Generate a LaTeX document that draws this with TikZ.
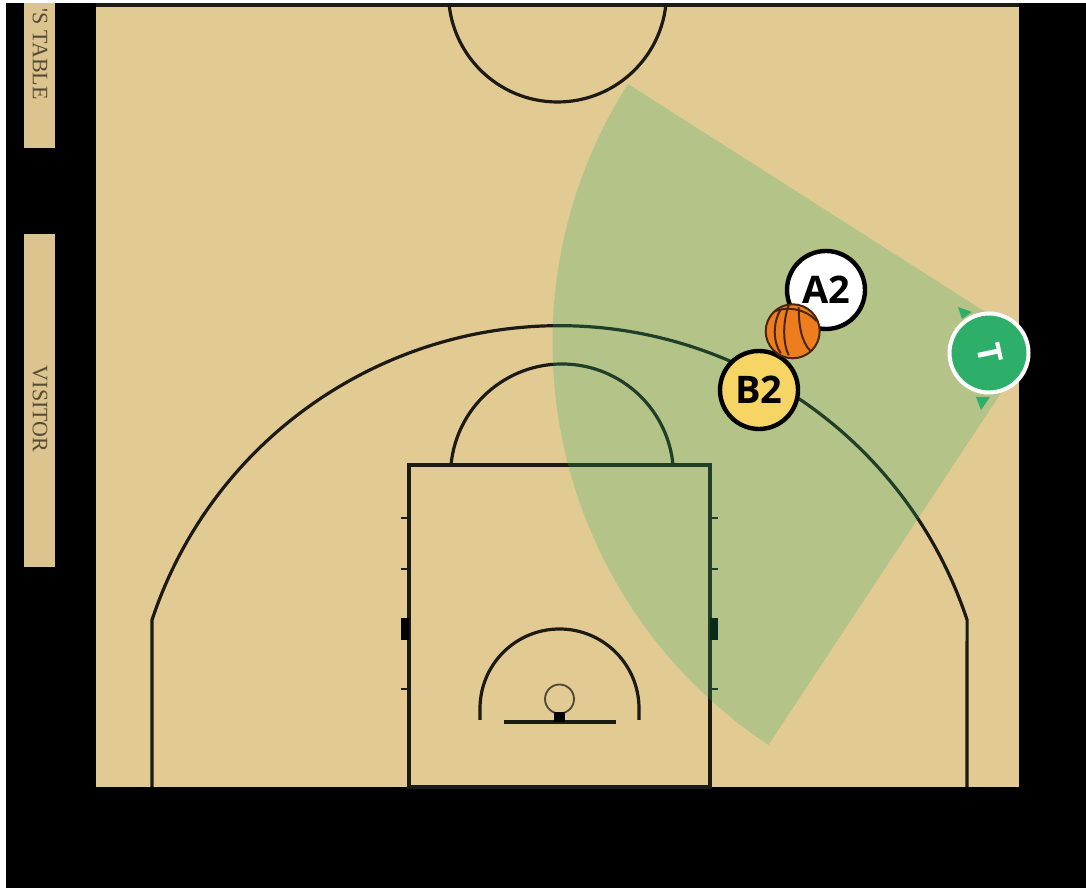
\documentclass[tikz,border=0pt]{standalone}
\usepackage{fontspec}
\setmainfont{Open Sans}
\newfontfamily\serifcap{Liberation Serif}
\definecolor{courttan}{HTML}{E1CB92}
\definecolor{tabletan}{HTML}{DCC48F}
\definecolor{refgreen}{HTML}{2EAF69}
\definecolor{lineink}{HTML}{1C1A14}
\definecolor{ballorange}{HTML}{EE7D1E}
\definecolor{ballink}{HTML}{4A260E}
\definecolor{playeryellow}{HTML}{F6D565}
\tikzset{
  courtline/.style={draw=lineink,line width=3.2pt},
  tablebox/.style={fill=tabletan,draw=none},
  tablelabel/.style={font=\serifcap\fontsize{22}{22}\selectfont,text=black!62!tabletan,rotate=-90,inner sep=0pt},
  playerdisc/.style={circle,draw=black,line width=4.4pt,minimum size=78pt,inner sep=0pt,
    font=\bfseries\fontsize{38}{38}\selectfont,text=black},
  refdisc/.style={circle,fill=refgreen,draw=white,line width=4pt,minimum size=79pt,inner sep=0pt},
  reftext/.style={font=\bfseries\fontsize{33}{33}\selectfont,text=white,rotate=-78,inner sep=0pt},
  seam/.style={draw=ballink,line width=2pt},
}
\begin{document}
\begin{tikzpicture}[x=1pt,y=1pt]
\useasboundingbox (0,0) rectangle (1086,888);
\fill[white] (0,0) rectangle (1086,888);
\fill[black] (6,0) rectangle (1086,884.5);
% scorer's table and visitor bench
\fill[tablebox] (24,740) rectangle (55,884.5);
\node[tablelabel,anchor=east] (tablelbl) at (40,788) {'S TABLE};
\fill[tablebox] (24,321) rectangle (55,654);
\node[tablelabel] (visitorlbl) at (40,479) {VISITOR};
% court
\fill[courttan] (96,101) rectangle (1019,882);
\begin{scope}
\clip (96,101) rectangle (1019,883);
\draw[courtline] (557.5,895) circle[radius=109];
\end{scope}
\draw[courtline] (96,883) -- (1019,883);
\draw[courtline] (152,101) -- (152,268) arc[start angle=161.65,end angle=18.35,radius=429.4] -- (967,101);
\draw[courtline] (409,101) rectangle (710,423);
\draw[courtline] (451,423) arc[start angle=174.6,end angle=5.4,radius=111.5];
\foreach \yy in {370,319,199}{
  \draw[draw=lineink,line width=2.4pt] (401,\yy) -- (409,\yy);
  \draw[draw=lineink,line width=2.4pt] (710,\yy) -- (718,\yy);
}
\fill[black] (401,248) rectangle (409,270);
\fill[black] (710,248) rectangle (718,270);
\draw[courtline] (480,168) -- (480,179.5) arc[start angle=180,end angle=0,radius=79.5] -- (639,168);
\draw[courtline] (504,166) -- (616,166);
\draw[draw=lineink!75!courttan,line width=1.8pt] (559.5,189) circle[radius=14.5];
\fill[black] (554,166) rectangle (565,176);
% vision cone
\begin{scope}
\clip (96,101) rectangle (1019,882);
\fill[refgreen,opacity=0.25] (1034,545) -- (628,804) arc[start angle=147.5,end angle=236.5,radius=482] -- cycle;
\end{scope}
% players
\node[playerdisc,fill=white] (a2) at (826,598) {A2};
\node[playerdisc,fill=playeryellow] (b2) at (759,498) {B2};
% ball
\begin{scope}[shift={(792.7,556.7)}]
\fill[ballorange] (0,0) circle[radius=27];
\begin{scope}
\clip (0,0) circle[radius=27];
\draw[seam] (-24,17) .. controls (-10,26) and (12,24) .. (24,10);
\draw[seam] (-4,26) .. controls (-10,10) and (-10,-12) .. (-4,-24);
\draw[seam] (6,24) .. controls (6,8) and (8,-10) .. (18,-20);
\draw[seam] (-12,22) .. controls (-20,8) and (-20,-10) .. (-12,-22);
\end{scope}
\draw[draw=ballink,line width=2pt] (0,0) circle[radius=27];
\end{scope}
% referee
\fill[refgreen] (958,581) -- (972,576) -- (962,569) -- cycle;
\fill[refgreen] (976,491) -- (990,491) -- (981,478) -- cycle;
\node[refdisc] (ref) at (989,535) {};
\node[reftext] (reflbl) at (990,535) {T};
\end{tikzpicture}
\end{document}
